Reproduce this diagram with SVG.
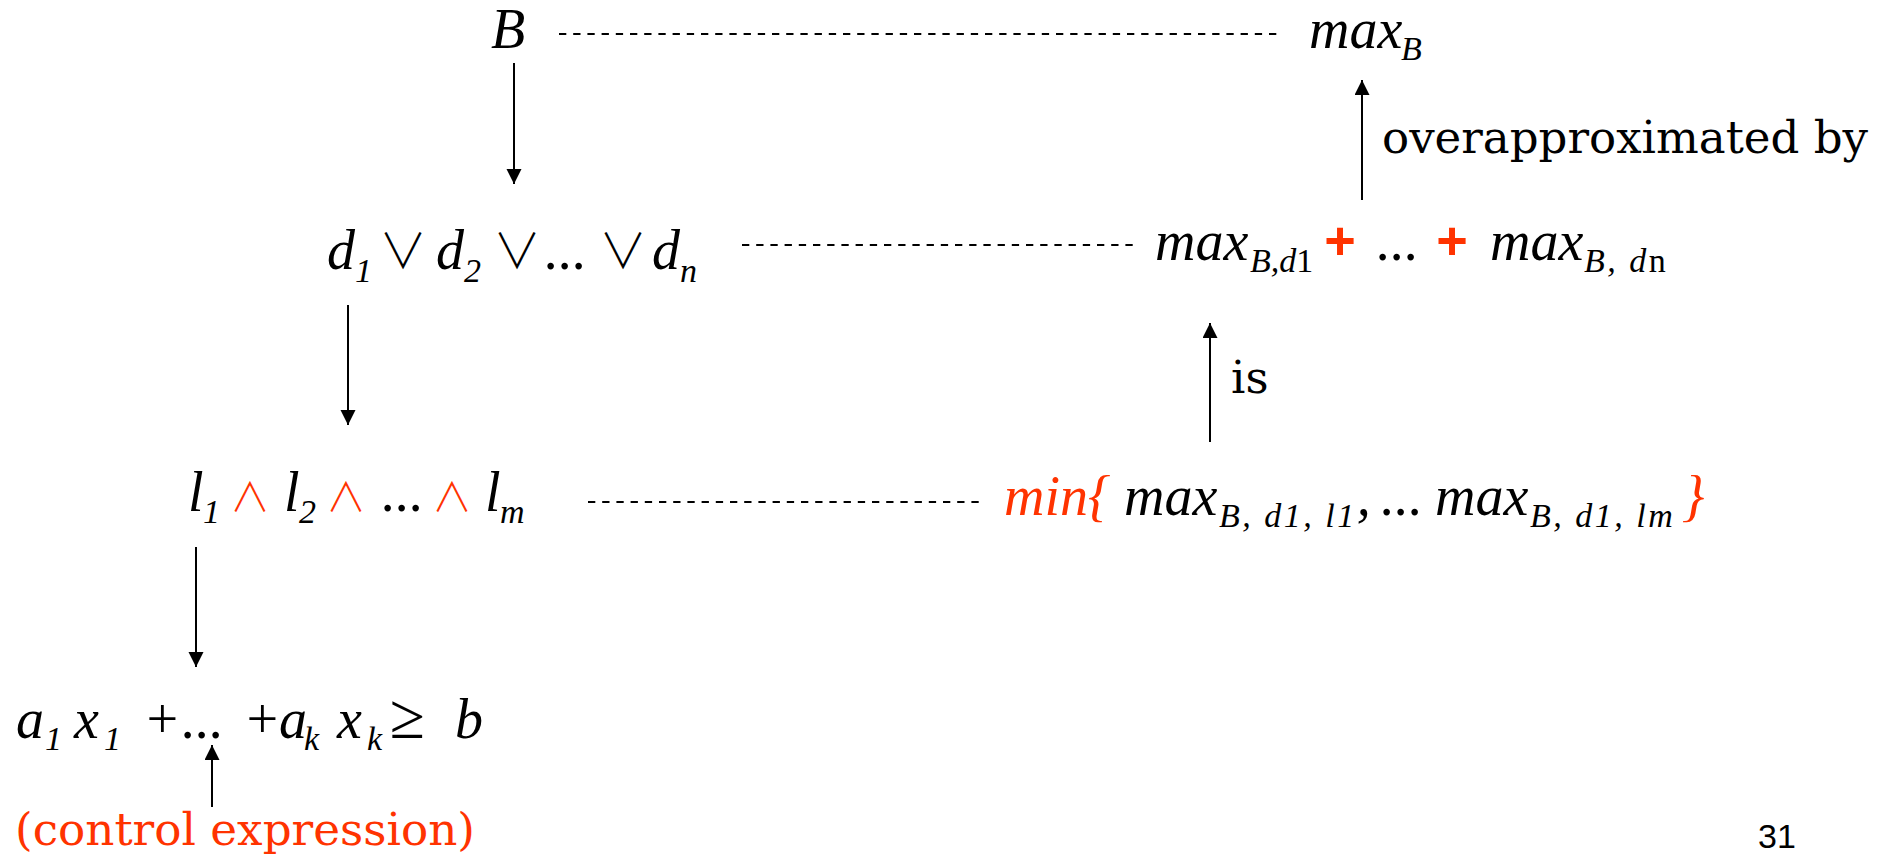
<svg xmlns="http://www.w3.org/2000/svg" width="1887" height="855" viewBox="0 0 1887 855">
<defs>
<style>
.m{font-family:"Liberation Serif",serif;font-style:italic;font-size:56px;fill:#000}
.s{font-size:34px}
.ls{letter-spacing:2.5px}
.up{font-style:normal}
.r{fill:#ff3300}
.op{font-family:"Noto Sans CJK KR","DejaVu Sans",sans-serif;font-style:normal;font-weight:300;font-size:48px;text-anchor:middle;fill:#000}
.an{font-family:"Noto Sans CJK KR","DejaVu Sans",sans-serif;font-style:normal;font-weight:300;font-size:40px;text-anchor:middle;fill:#ff3300}
.pl{font-family:"Liberation Sans",sans-serif;font-style:normal;font-weight:bold;font-size:54px;text-anchor:middle;fill:#ff3300}
.ge{font-family:"Liberation Serif",serif;font-size:64px;text-anchor:middle;fill:#000}
.t{font-family:"DejaVu Serif",serif;font-size:45px;fill:#000}
.dash{stroke:#000;stroke-width:2;stroke-dasharray:7.3 6.9;fill:none}
.arr{stroke:#000;stroke-width:2;fill:none;marker-end:url(#ah)}
</style>
<marker id="ah" markerUnits="userSpaceOnUse" markerWidth="16" markerHeight="16" refX="15" refY="7.5" orient="auto">
<path d="M0,0 L15,7.5 L0,15 Z" fill="#000"/>
</marker>
</defs>
<rect width="1887" height="855" fill="#fff"/>
<g id="connectors">
<line class="dash" x1="559" y1="34" x2="1281" y2="34"/>
<line class="dash" x1="742" y1="245" x2="1134" y2="245"/>
<line class="dash" x1="588" y1="502" x2="983" y2="502"/>
<line class="arr" x1="514" y1="63" x2="514" y2="184"/>
<line class="arr" x1="348" y1="305" x2="348" y2="425"/>
<line class="arr" x1="196" y1="547" x2="196" y2="667"/>
<line class="arr" x1="1362" y1="200" x2="1362" y2="80"/>
<line class="arr" x1="1210" y1="442" x2="1210" y2="323"/>
<line class="arr" x1="212" y1="807" x2="212" y2="745"/>
</g>
<g id="node-B">
<text class="m" x="491" y="48">B</text>
</g>
<g id="node-maxB">
<text class="m"><tspan x="1309" y="48">max</tspan><tspan class="s" x="1401" y="60">B</tspan></text>
</g>
<g id="label-overapprox">
<text class="t" x="1382" y="153" textLength="486" lengthAdjust="spacingAndGlyphs">overapproximated by</text>
</g>
<g id="node-disj">
<text class="m"><tspan x="327" y="269">d</tspan><tspan class="s" x="355" y="282">1</tspan><tspan x="436" y="269">d</tspan><tspan class="s" x="464" y="282">2</tspan><tspan x="545" y="269">...</tspan><tspan x="652" y="269">d</tspan><tspan class="s" x="680" y="282">n</tspan></text>
<text class="op" x="403" y="268">∨</text>
<text class="op" x="517" y="268">∨</text>
<text class="op" x="623" y="268">∨</text>
</g>
<g id="node-sum">
<text class="m"><tspan x="1155" y="260">max</tspan><tspan class="s" x="1250" y="272">B,d</tspan><tspan class="s up">1</tspan><tspan x="1377" y="260">...</tspan><tspan x="1490" y="260">max</tspan><tspan class="s ls" x="1584" y="272">B, d</tspan><tspan class="s up">n</tspan></text>
<text class="pl" x="1340" y="259">+</text>
<text class="pl" x="1452" y="259">+</text>
</g>
<g id="label-is">
<text class="t" x="1231" y="393">is</text>
</g>
<g id="node-conj">
<text class="m"><tspan x="188" y="511">l</tspan><tspan class="s" x="203" y="523">1</tspan><tspan x="284" y="511">l</tspan><tspan class="s" x="299" y="523">2</tspan><tspan x="382" y="511">...</tspan><tspan x="485" y="511">l</tspan><tspan class="s" x="500" y="523">m</tspan></text>
<text class="an" x="250" y="511">∧</text>
<text class="an" x="346" y="511">∧</text>
<text class="an" x="452" y="511">∧</text>
</g>
<g id="node-min">
<text class="m"><tspan class="r" x="1004" y="515">min{</tspan><tspan x="1124" y="515">max</tspan><tspan class="s ls" x="1219" y="527">B, d1, l1</tspan><tspan y="515">,</tspan><tspan x="1381" y="515">...</tspan><tspan x="1435" y="515">max</tspan><tspan class="s ls" x="1530" y="527">B, d1, lm</tspan><tspan class="r" x="1682" y="515">}</tspan></text>
</g>
<g id="node-ineq">
<text class="m"><tspan x="16" y="738">a</tspan><tspan class="s" x="45" y="750">1</tspan><tspan x="74" y="738">x</tspan><tspan class="s" x="104" y="750">1</tspan><tspan x="143" y="738">+</tspan><tspan x="182" y="738">...</tspan><tspan x="243" y="738">+</tspan><tspan x="279" y="738">a</tspan><tspan class="s" x="304" y="750">k</tspan><tspan x="337" y="738">x</tspan><tspan class="s" x="367" y="750">k</tspan><tspan x="455" y="738">b</tspan></text>
<text class="ge" x="407" y="738">≥</text>
</g>
<g id="label-control">
<text class="t" x="15" y="845" textLength="460" lengthAdjust="spacingAndGlyphs" style="fill:#ff3300">(control expression)</text>
</g>
<g id="page-number">
<text x="1758" y="848" font-family="Liberation Sans, sans-serif" font-size="34" fill="#000">31</text>
</g>
</svg>
